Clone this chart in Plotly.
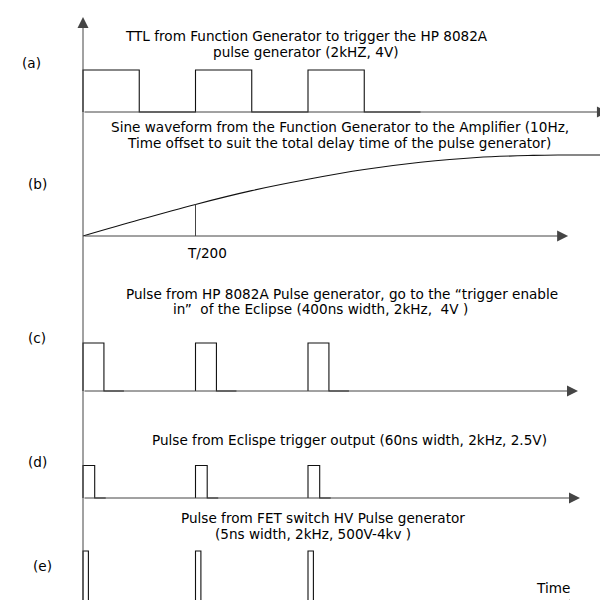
import plotly.graph_objects as go

# ---------------- data (time in microseconds) ----------------
pulse_starts_us = [0, 500, 1000]          # 2 kHz trigger train
ttl_high_us = 250                          # TTL half period
ttl_end_us = 1500
hp_width_us = 93                           # drawn width of HP 8082A pulse
hp_tail_us = 89
ecl_width_us = 52                          # Eclipse trigger pulse
ecl_tail_us = 49
fet_width_us = 24                          # FET switch HV pulse
fet_tail_us = 22
sine_t_us = [0, 250, 500, 750, 1000, 1250, 1500, 1750, 2000, 2111, 2369]
sine_level = [0, 0.20, 0.39, 0.56, 0.70, 0.82, 0.91, 0.97, 0.995, 1.0, 1.0]
t200_us = 500
t200_level = 0.39
row_names = ["(a)", "(b)", "(c)", "(d)", "(e)"]
axis_end_us = [2333, 2156, 2200, 2209, 2209]

# ---------------- layout helpers ----------------
W, H = 608, 600
X0_PX, PX_PER_US = 75, 0.225
xmin = -X0_PX / PX_PER_US
xmax = (W - X0_PX) / PX_PER_US
# row baseline (y units, bottom=0) and amplitude
rows = {"a": (496, 42), "b": (372, 81), "c": (217, 48), "d": (110, 32.5), "e": (3, 54)}

LINE = "#111111"
AXC = "#454545"
FONT = "DejaVu Sans, Liberation Sans, Arial, sans-serif"
FS = 13.6

fig = go.Figure()


def add_line(xs, ys, color=LINE, width=1.1, shape="linear"):
    fig.add_trace(go.Scatter(x=xs, y=ys, mode="lines",
                             line=dict(color=color, width=width, shape=shape),
                             hoverinfo="skip", showlegend=False))


def pulse_train(width, tail, key):
    base, amp = rows[key]
    xs, ys = [], []
    for s in pulse_starts_us:
        xs += [s, s, s + width, s + width, s + width + tail, None]
        ys += [base, base + amp, base + amp, base, base, None]
    add_line(xs, ys)


# (a) TTL square wave
base, amp = rows["a"]
xs, ys = [], []
for s in pulse_starts_us:
    xs += [s, s, s + ttl_high_us, s + ttl_high_us]
    ys += [base, base + amp, base + amp, base]
xs.append(ttl_end_us)
ys.append(base)
add_line(xs, ys)

# (b) sine wave
base, amp = rows["b"]
add_line(sine_t_us, [base + amp * v for v in sine_level], shape="spline")
add_line([t200_us, t200_us], [base, base + amp * t200_level], color=AXC, width=1)

# (c), (d), (e)
pulse_train(hp_width_us, hp_tail_us, "c")
pulse_train(ecl_width_us, ecl_tail_us, "d")
pulse_train(fet_width_us, fet_tail_us, "e")

annotations = []
# horizontal axes with arrows
for key, xe in zip("abcde", axis_end_us):
    b = rows[key][0]
    annotations.append(dict(x=xe, y=b, ax=0, ay=b, xref="x", yref="y", axref="x", ayref="y",
                            text="", showarrow=True, arrowhead=2, arrowsize=2.2,
                            arrowwidth=1, arrowcolor=AXC, standoff=0))
# vertical axis
annotations.append(dict(x=0, y=591, ax=0, ay=0, xref="x", yref="y", axref="x", ayref="y",
                        text="", showarrow=True, arrowhead=2, arrowsize=2.2,
                        arrowwidth=1, arrowcolor=AXC, standoff=0))


def txt(s, xpx, ypx, size=FS):
    annotations.append(dict(text=s, x=xpx / W, y=1 - ypx / H, xref="paper", yref="paper",
                            xanchor="center", yanchor="middle", showarrow=False,
                            font=dict(family=FONT, size=size, color="#000")))


txt("TTL from Function Generator to trigger the HP 8082A", 298, 28)
txt("pulse generator (2kHZ, 4V)", 298, 44)
txt("Sine waveform from the Function Generator to the Amplifier (10Hz,", 332, 119)
txt("Time offset to suit the total delay time of the pulse generator)", 331, 135)
txt("T/200", 199, 245)
txt("Pulse from HP 8082A Pulse generator, go to the \u201ctrigger enable", 334, 286)
txt("in\u201d  of the Eclipse (400ns width, 2kHz,  4V )", 312, 301)
txt("Pulse from Eclispe trigger output (60ns width, 2kHz, 2.5V)", 341, 432)
txt("Pulse from FET switch HV Pulse generator", 315, 510)
txt("(5ns width, 2kHz, 500V-4kv )", 305, 526)
txt("Time", 545, 580)
for name, (lx, ly) in zip(row_names, [(23, 55), (29, 176), (29, 330), (29, 454), (34, 558)]):
    txt(name, lx, ly)

fig.update_layout(
    width=W, height=H, margin=dict(l=0, r=0, t=0, b=0),
    paper_bgcolor="white", plot_bgcolor="white",
    xaxis=dict(range=[xmin, xmax], visible=False, fixedrange=True),
    yaxis=dict(range=[0, H], visible=False, fixedrange=True),
    annotations=annotations, showlegend=False,
)
fig.write_html("out.html")
